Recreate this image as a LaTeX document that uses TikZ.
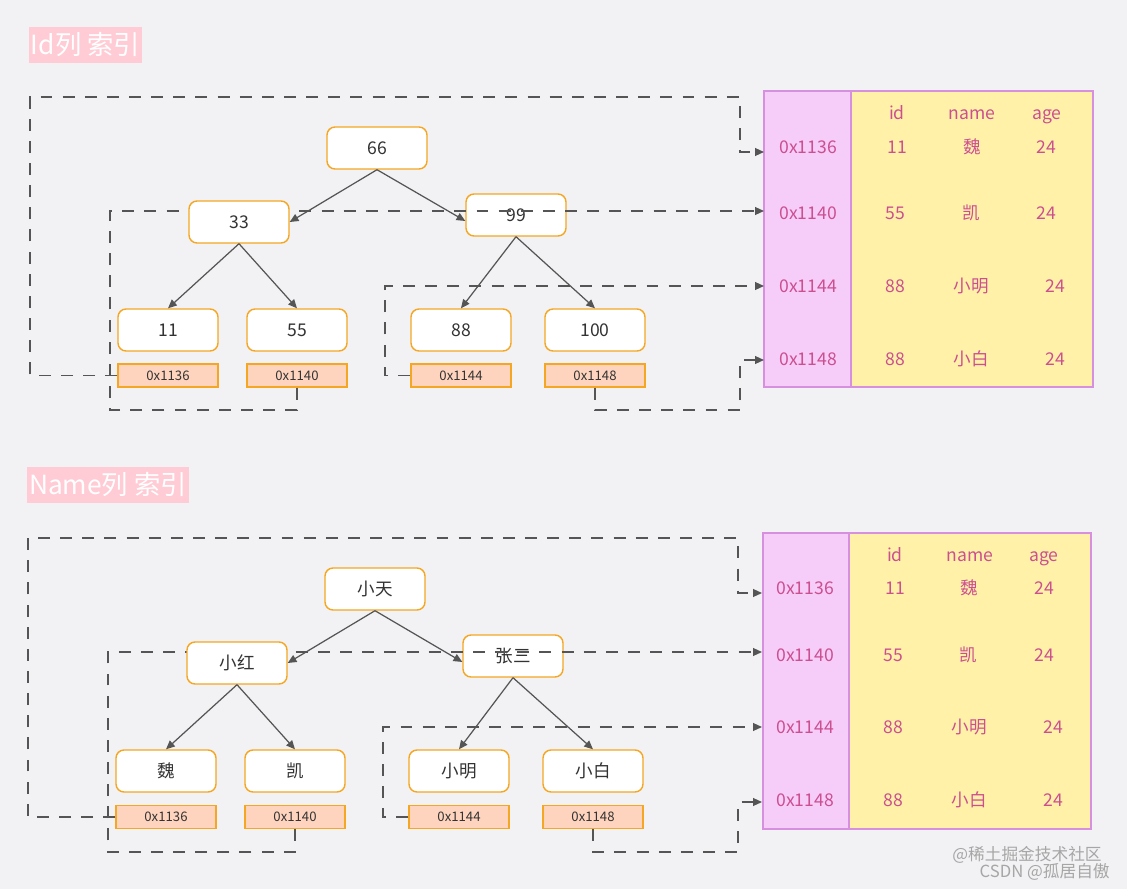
\documentclass[tikz,border=0pt]{standalone}
\usepackage{fontspec}
\setmainfont{Noto Sans CJK SC}
\usetikzlibrary{arrows.meta}
\definecolor{bgcolor}{HTML}{F2F2F4}
\definecolor{keyorange}{HTML}{F5A623}
\definecolor{addrfill}{HTML}{FFD4BE}
\definecolor{keytext}{HTML}{333333}
\definecolor{linegray}{HTML}{555555}
\definecolor{colpink}{HTML}{F6CCF8}
\definecolor{rowyellow}{HTML}{FFF2A8}
\definecolor{tableborder}{HTML}{D78FE0}
\definecolor{cellpink}{HTML}{CC4F90}
\definecolor{titlepink}{HTML}{FFCCD5}
\tikzstyle{keybox}=[draw=keyorange, line width=0.8pt, fill=white, rounded corners=0.16cm, minimum width=2cm, minimum height=0.84cm, text=keytext, font=\fontsize{10}{12}\selectfont]
\tikzstyle{addrbox}=[draw=keyorange, line width=0.8pt, fill=addrfill, minimum width=2cm, minimum height=0.46cm, inner sep=0pt, text=keytext, font=\fontsize{7.5}{9}\selectfont]
\tikzstyle{cell}=[text=cellpink, inner sep=0pt, text height=7pt, text depth=0pt, font=\fontsize{10}{12}\selectfont]
\tikzstyle{branch}=[draw=linegray, line width=0.7pt, -{Triangle[length=5pt,width=4.4pt]}]
\tikzstyle{link}=[draw=linegray, line width=0.75pt, dash pattern=on 6.8pt off 5.8pt, -{Triangle[length=5pt,width=4.4pt]}]
\tikzstyle{heading}=[fill=titlepink, text=white, inner xsep=1pt, font=\fontsize{15}{18}\selectfont]
\tikzstyle{watermark}=[text=gray!70, inner sep=0pt, font=\fontsize{9.5}{11}\selectfont]

\begin{document}
\begin{tikzpicture}[x=0.02cm, y=-0.02cm]
% Page
    \fill[bgcolor] (0,0) rectangle (1127,889);
    \useasboundingbox (0,0) rectangle (1127,889);
% Headings
    \node[heading, minimum height=0.68cm] (hid) at (85.5,45) {Id列 索引};
    \node[heading, minimum height=0.72cm] (hname) at (108,485) {Name列 索引};
% Table for the id index
    \draw[tableborder, line width=0.8pt, fill=colpink] (764,91) rectangle (851,387);
    \draw[tableborder, line width=0.8pt, fill=rowyellow] (851,91) rectangle (1093,387);
    \node[cell] (thid) at (897,113) {id};
    \node[cell] (thname) at (972,113) {name};
    \node[cell] (thage) at (1047,113) {age};
    \node[cell] (ta1136) at (808,147) {0x1136};
    \node[cell] (ti1136) at (897,147) {11};
    \node[cell] (tn1136) at (972,147) {魏};
    \node[cell] (tg1136) at (1046,147) {24};
    \node[cell] (ta1140) at (808,213) {0x1140};
    \node[cell] (ti1140) at (895,213) {55};
    \node[cell] (tn1140) at (971,213) {凯};
    \node[cell] (tg1140) at (1046,213) {24};
    \node[cell] (ta1144) at (808,286) {0x1144};
    \node[cell] (ti1144) at (895,286) {88};
    \node[cell] (tn1144) at (971,286) {小明};
    \node[cell] (tg1144) at (1055,286) {24};
    \node[cell] (ta1148) at (808,359) {0x1148};
    \node[cell] (ti1148) at (895,359) {88};
    \node[cell] (tn1148) at (971,359) {小白};
    \node[cell] (tg1148) at (1055,359) {24};
    \coordinate (tin1136) at (764,152);
    \coordinate (tin1140) at (764,211);
    \coordinate (tin1144) at (764,286);
    \coordinate (tin1148) at (764,360);
% Table for the name index
    \draw[tableborder, line width=0.8pt, fill=colpink] (763,533) rectangle (849,829);
    \draw[tableborder, line width=0.8pt, fill=rowyellow] (849,533) rectangle (1091,829);
    \node[cell] (bhid) at (895,555) {id};
    \node[cell] (bhname) at (970,555) {name};
    \node[cell] (bhage) at (1044,555) {age};
    \node[cell] (ba1136) at (805,588) {0x1136};
    \node[cell] (bi1136) at (895,588) {11};
    \node[cell] (bn1136) at (969,588) {魏};
    \node[cell] (bg1136) at (1044,588) {24};
    \node[cell] (ba1140) at (805,655) {0x1140};
    \node[cell] (bi1140) at (893,655) {55};
    \node[cell] (bn1140) at (968,655) {凯};
    \node[cell] (bg1140) at (1044,655) {24};
    \node[cell] (ba1144) at (805,727) {0x1144};
    \node[cell] (bi1144) at (893,727) {88};
    \node[cell] (bn1144) at (969,727) {小明};
    \node[cell] (bg1144) at (1053,727) {24};
    \node[cell] (ba1148) at (805,800) {0x1148};
    \node[cell] (bi1148) at (893,800) {88};
    \node[cell] (bn1148) at (969,800) {小白};
    \node[cell] (bg1148) at (1053,800) {24};
    \coordinate (bin1136) at (762,593);
    \coordinate (bin1140) at (762,652);
    \coordinate (bin1144) at (762,727);
    \coordinate (bin1148) at (762,802);
% Id tree
    \node[keybox] (k66) at (377,148) {66};
    \node[keybox] (k99) at (516,215) {99};
    \node[keybox] (k11) at (168,330) {11};
    \node[keybox] (k55) at (297,330) {55};
    \node[keybox] (k88) at (461,330) {88};
    \node[keybox] (k100) at (595,330) {100};
    \node[addrbox] (a1136) at (168,375.5) {0x1136};
    \node[addrbox] (a1140) at (297,375.5) {0x1140};
    \node[addrbox] (a1144) at (461,375.5) {0x1144};
    \node[addrbox] (a1148) at (595,375.5) {0x1148};
% Name tree
    \node[keybox] (kxt) at (375,589) {小天};
    \node[keybox] (kzs) at (513,656) {张三};
    \node[keybox] (kwei) at (166,771) {魏};
    \node[keybox] (kkai) at (295,771) {凯};
    \node[keybox] (kxm) at (459,771) {小明};
    \node[keybox] (kxb) at (593,771) {小白};
    \node[addrbox] (b1136) at (166,817) {0x1136};
    \node[addrbox] (b1140) at (295,817) {0x1140};
    \node[addrbox] (b1144) at (459,817) {0x1144};
    \node[addrbox] (b1148) at (593,817) {0x1148};
% Row pointers
    \draw[link] (a1136.west) -| (30,97) -| (740,152) -- (tin1136);
    \draw[link] (a1140.south) |- (110,410) |- (tin1140);
    \draw[link] (a1144.west) -| (385,286) -- (tin1144);
    \draw[link] (a1148.south) |- (740,410) |- (tin1148);
    \draw[link] (b1136.west) -| (28,538) -| (738,593) -- (bin1136);
    \draw[link] (b1140.south) |- (108,852) |- (bin1140);
    \draw[link] (b1144.west) -| (383,727) -- (bin1144);
    \draw[link] (b1148.south) |- (738,852) |- (bin1148);
% Left children cover the pointers
    \node[keybox] (k33) at (239,222) {33};
    \node[keybox] (kxh) at (237,663) {小红};
% Branches
    \draw[branch] (k66.south) -- (k33.east);
    \draw[branch] (k66.south) -- ([yshift=-3.4pt]k99.west);
    \draw[branch] (k33.south) -- (k11.north);
    \draw[branch] (k33.south) -- (k55.north);
    \draw[branch] (k99.south) -- (k88.north);
    \draw[branch] (k99.south) -- (k100.north);
    \draw[branch] (kxt.south) -- (kxh.east);
    \draw[branch] (kxt.south) -- ([yshift=-3.4pt]kzs.west);
    \draw[branch] (kxh.south) -- (kwei.north);
    \draw[branch] (kxh.south) -- (kkai.north);
    \draw[branch] (kzs.south) -- (kxm.north);
    \draw[branch] (kzs.south) -- (kxb.north);
% Watermark
    \node[watermark, anchor=east] (wm1) at (1102,855) {@稀土掘金技术社区};
    \node[watermark, anchor=east] (wm2) at (1110,872) {CSDN @孤居自傲};
\end{tikzpicture}
\end{document}
